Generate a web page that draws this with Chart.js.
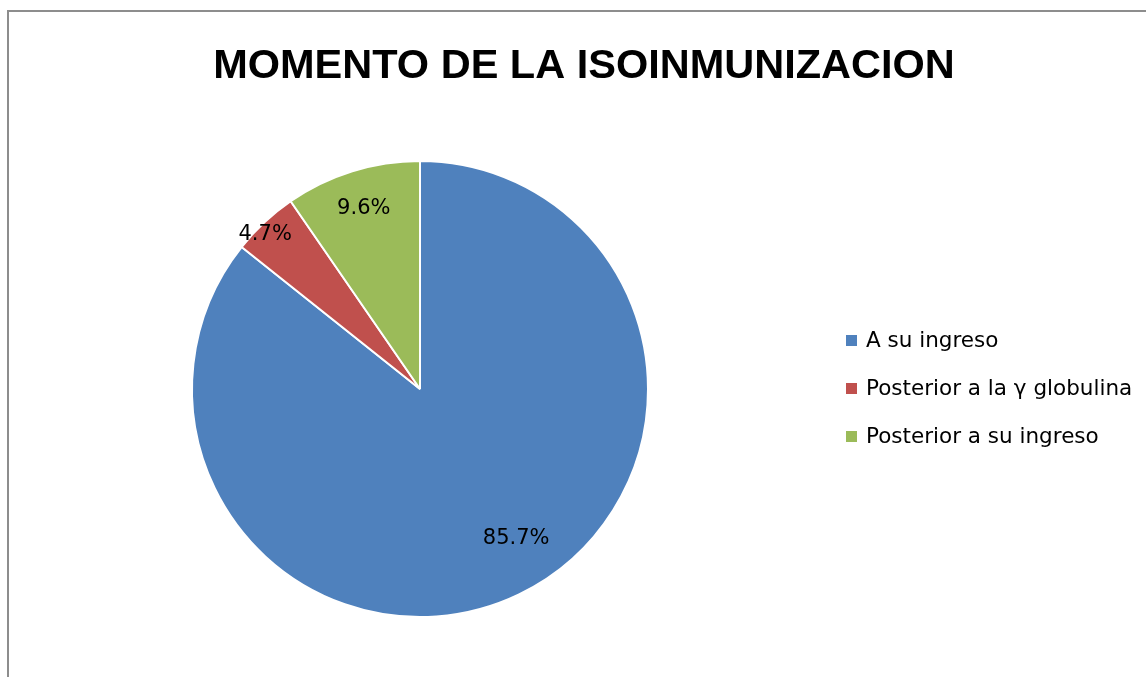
<!DOCTYPE html>
<html>
<head>
<meta charset="utf-8">
<script src="https://cdn.jsdelivr.net/npm/chart.js@4/dist/chart.umd.min.js"></script>
<style>
    body { margin: 0; background: #fff; overflow: hidden; }
    #wrap { position: relative; width: 1146px; height: 677px; }
    #frame {
        position: absolute; left: 7px; top: 10px; width: 1400px; height: 900px;
        border-left: 2px solid #8d8d8d; border-top: 2px solid #8d8d8d;
    }
    canvas { position: absolute; left: 0; top: 0; }
</style>
</head>
<body>
<div id="wrap">
    <div id="frame"></div>
    <canvas id="isoChart" width="1146" height="677"></canvas>
</div>
<script>
// Datos del grafico
const chartTitle = 'MOMENTO DE LA ISOINMUNIZACION';
const categorias = ['A su ingreso', 'Posterior a la γ globulina', 'Posterior a su ingreso'];
const porcentajes = [85.7, 4.7, 9.6];
const colores = ['#4F81BD', '#C0504D', '#9BBB59'];

// posicion de las etiquetas (fraccion del radio, desplazamiento de angulo en grados)
const etiquetaRadio = [0.78, 0.96, 0.83];
const etiquetaGiro = [-7, -2, 0];

/*
 * Plugin: titulo, etiquetas de porcentaje y leyenda
 */
const isoPlugin = {
    id: 'isoPlugin',
    afterDraw(chart) {
        const ctx = chart.ctx;
        const meta = chart.getDatasetMeta(0);
        ctx.save();

        // titulo
        ctx.fillStyle = '#000';
        ctx.font = 'bold 41.5px "Liberation Sans", Arial, sans-serif';
        ctx.textAlign = 'center';
        ctx.textBaseline = 'alphabetic';
        ctx.fillText(chartTitle, 584, 78, 744);

        // etiquetas
        ctx.font = '21px "DejaVu Sans", sans-serif';
        ctx.textBaseline = 'middle';
        meta.data.forEach((arc, i) => {
            const mid = (arc.startAngle + arc.endAngle) / 2 + etiquetaGiro[i] * Math.PI / 180;
            const r = arc.outerRadius * etiquetaRadio[i];
            const x = arc.x + Math.cos(mid) * r;
            const y = arc.y + Math.sin(mid) * r;
            ctx.fillText(porcentajes[i].toFixed(1) + '%', x, y);
        });

        // leyenda
        ctx.font = '21.5px "DejaVu Sans", sans-serif';
        ctx.textAlign = 'left';
        categorias.forEach((cat, i) => {
            const y = 341 + i * 48;
            ctx.fillStyle = colores[i];
            ctx.fillRect(846, y - 6, 11, 11);
            ctx.fillStyle = '#000';
            ctx.fillText(cat, 866, y);
        });
        ctx.restore();
    }
};

new Chart(document.getElementById('isoChart'), {
    type: 'pie',
    data: {
        labels: categorias,
        datasets: [{
            data: porcentajes,
            backgroundColor: colores,
            borderColor: '#fff',
            borderWidth: 2
        }]
    },
    options: {
        responsive: false,
        animation: false,
        layout: {
            padding: { left: 191, right: 497, top: 160, bottom: 59 }
        },
        plugins: {
            legend: { display: false },
            title: { display: false },
            tooltip: { enabled: false }
        }
    },
    plugins: [isoPlugin]
});
</script>
</body>
</html>
